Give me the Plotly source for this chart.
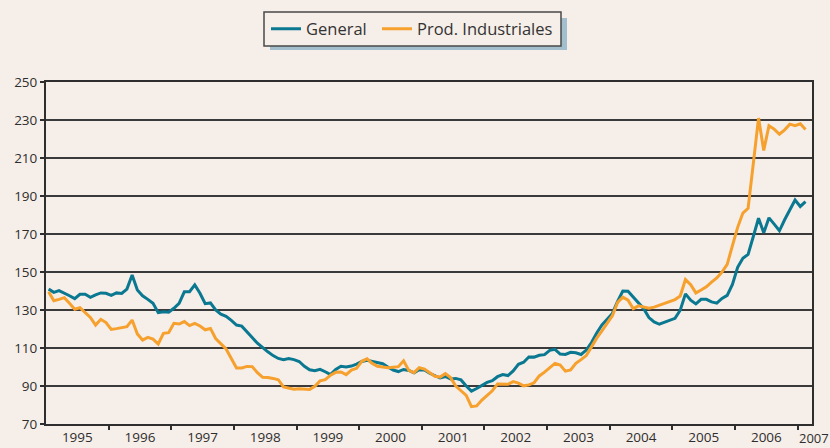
import plotly.graph_objects as go

# Monthly series, Jan 1995 .. Feb 2007 (index 1995 base)
general = [
    141.0, 139.3, 140.2, 139.0, 137.5, 136.0, 138.3, 138.3, 136.7, 138.0, 139.0, 138.8,
    137.7, 139.0, 138.7, 141.0, 148.4, 140.5, 137.5, 135.6, 133.5, 128.6, 129.1, 128.8,
    130.9, 133.5, 139.6, 139.6, 143.2, 138.8, 133.3, 133.7, 130.0, 127.8, 126.7, 124.5,
    122.1, 121.5, 118.2, 115.5, 112.5, 110.0, 108.0, 106.0, 104.5, 103.8, 104.4, 103.9,
    102.9, 100.4, 98.5, 98.0, 98.8, 97.5, 96.0, 98.7, 100.4, 100.0, 100.5, 101.5,
    102.9, 103.5, 102.9, 102.7, 101.7, 100.0, 98.4, 97.6, 98.7, 98.2, 96.9, 98.6,
    98.4, 96.7, 95.3, 94.2, 95.0, 93.7, 94.0, 93.2, 90.0, 87.3, 88.7, 90.3,
    91.9, 92.8, 94.9, 96.0, 95.5, 97.9, 101.4, 102.5, 105.3, 105.2, 106.2, 106.5,
    108.8, 109.3, 106.8, 106.6, 107.7, 107.5, 106.6, 108.9, 112.9, 117.9, 122.1, 125.1,
    128.2, 134.5, 140.0, 139.9, 137.0, 133.6, 130.7, 126.0, 123.7, 122.5, 123.5, 124.9,
    125.6, 129.9, 138.5, 135.2, 133.2, 135.6, 135.6, 134.3, 133.6, 136.1, 137.7, 143.5,
    152.5, 157.2, 159.3, 168.7, 178.3, 170.6, 178.5, 175.2, 171.7, 177.5, 182.5, 187.9,
    184.5, 187.0,
]
industriales = [
    139.6, 134.9, 135.6, 136.5, 133.5, 130.4, 131.2, 128.6, 126.1, 122.1, 125.1, 123.4,
    119.8, 120.2, 120.9, 121.2, 124.7, 117.4, 114.2, 115.6, 114.7, 112.1, 117.7, 118.1,
    123.0, 122.6, 123.9, 121.8, 123.0, 121.6, 119.6, 120.3, 115.0, 112.4, 109.5, 104.5,
    99.5, 99.5, 100.3, 100.2, 97.0, 94.6, 94.5, 94.0, 93.3, 89.5, 89.0, 88.3,
    88.5, 88.2, 88.2, 89.8, 92.7, 93.3, 95.7, 97.2, 97.4, 96.0, 98.4, 99.3,
    103.0, 104.3, 101.9, 100.4, 100.0, 99.6, 99.9, 100.2, 103.3, 98.2, 97.0, 99.6,
    98.9, 96.9, 95.1, 94.7, 96.5, 94.4, 90.0, 87.5, 85.1, 79.1, 79.5, 82.6,
    85.1, 87.5, 91.1, 91.1, 90.9, 92.3, 91.5, 90.1, 90.6, 91.7, 95.3, 97.3,
    99.8, 101.9, 101.0, 97.8, 98.5, 101.9, 103.9, 106.0, 110.6, 115.2, 119.0, 122.7,
    127.0, 134.0, 136.8, 135.2, 130.7, 132.2, 131.6, 130.9, 131.5, 132.6, 133.5, 134.4,
    135.5, 137.4, 146.0, 143.3, 139.0, 140.5, 142.2, 144.7, 146.9, 150.0, 154.0, 163.9,
    173.5, 181.0, 183.5, 207.0, 231.0, 214.0, 227.0, 225.2, 222.5, 224.8, 227.8, 227.0,
    228.0, 225.0,
]
years = [str(y) for y in range(1995, 2007)]
last_label = "2007"
series_names = ["General", "Prod. Industriales"]

x = [1995 + (i + 0.5) / 12 for i in range(len(general))]

BG = "#f6eee8"
BLUE = "#0a7891"
ORANGE = "#f6a02d"
DARK = "#2e2e2e"
FONT = "Open Sans"

# plot area in window pixels: x 46..812, y 82..424
PW, PH = 766, 342


def px(xw):
    return (xw - 46) / PW


def py(yw):
    return 1 + (82 - yw) / PH


fig = go.Figure()
fig.add_trace(go.Scatter(x=x, y=general, mode="lines", name=series_names[0],
                         line=dict(color=BLUE, width=3), legend="legend"))
fig.add_trace(go.Scatter(x=x, y=industriales, mode="lines", name=series_names[1],
                         line=dict(color=ORANGE, width=3), legend="legend2"))

leg_common = dict(orientation="h", xanchor="left", yanchor="middle",
                  bgcolor="rgba(0,0,0,0)", borderwidth=0,
                  font=dict(size=16.5, color="#333333", family=FONT))

fig.update_layout(
    width=830, height=448,
    margin=dict(l=46, r=18, t=82, b=24, autoexpand=False),
    paper_bgcolor=BG, plot_bgcolor=BG,
    font=dict(family=FONT, size=13, color=DARK),
    showlegend=True,
    legend=dict(x=px(266), y=py(29), **leg_common),
    legend2=dict(x=px(377), y=py(29), **leg_common),
    shapes=[
        dict(type="rect", xref="paper", yref="paper",
             x0=px(270), x1=px(567), y0=py(50), y1=py(18),
             fillcolor="#a3bfcd", line=dict(width=0), layer="above"),
        dict(type="rect", xref="paper", yref="paper",
             x0=px(264), x1=px(561), y0=py(46), y1=py(12),
             fillcolor=BG, line=dict(width=1.5, color="#4a4a4a"), layer="above"),
    ],
)

fig.update_xaxes(
    range=[1995, 1995 + PW / 62.64],
    tickmode="array",
    tickvals=[int(y) + 0.5 for y in years],
    ticktext=years,
    ticks="", showgrid=False, zeroline=False, automargin=False,
    showline=True, linecolor=DARK, linewidth=2, mirror=True,
    minor=dict(tickmode="array", tickvals=list(range(1996, 2008)),
               ticks="outside", ticklen=4, tickwidth=2, tickcolor=DARK, showgrid=False),
    tickfont=dict(size=13.5, color=DARK),
)
fig.update_yaxes(
    range=[70, 250], tickmode="linear", tick0=70, dtick=20,
    ticks="outside", ticklen=4, tickwidth=1.5, tickcolor=DARK, automargin=False,
    showgrid=True, gridcolor="#3a3a3a", gridwidth=1.5, zeroline=False,
    showline=True, linecolor=DARK, linewidth=2, mirror=True,
    tickfont=dict(size=13.5, color=DARK),
)

fig.add_annotation(x=2007.0, xref="x", y=0, yref="paper", xanchor="left", yanchor="top",
                   text=last_label, showarrow=False, yshift=-3, xshift=-1,
                   font=dict(size=13, color=DARK, family=FONT))

page_fix = ("document.body.style.margin='0';"
            "document.body.style.overflow='hidden';"
            "document.documentElement.style.overflow='hidden';")
fig.write_html("out.html", post_script=page_fix, config={"displayModeBar": False})
